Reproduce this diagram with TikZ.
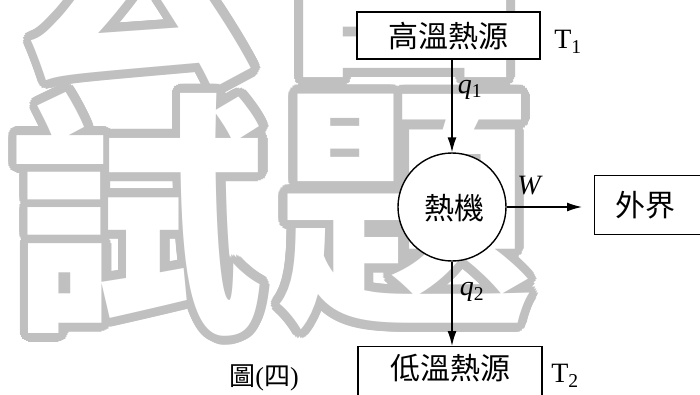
\documentclass[tikz,border=0pt]{standalone}
\usepackage{fontspec}
\setmainfont{Liberation Serif}
\newfontfamily\cjk{Noto Sans CJK TC}
\usetikzlibrary{arrows.meta,calc}
\definecolor{wmgray}{RGB}{192,192,192}
\tikzset{
  box/.style={draw, line width=1.4pt, fill=white, inner sep=0pt},
  arr/.style={-{Latex[length=15pt,width=9pt]}, line width=1.4pt},
  cjklab/.style={font=\cjk\fontsize{30}{30}\selectfont, inner sep=0pt},
  lab/.style={font=\fontsize{28}{28}\selectfont, inner sep=0pt},
  wm/.style={font=\cjk\bfseries\fontsize{256}{256}\selectfont, inner sep=0pt},
}
\newcommand\wmglyph[3]{%
  \foreach \a in {0,15,...,345}{%
    \node[wm, text=wmgray] at ([shift={(\a:9)}]#1,#2) {#3};
    \node[wm, text=wmgray] at ([shift={(\a:5)}]#1,#2) {#3};
  }%
  \node[wm, text=white] at (#1,#2) {#3};
}
\begin{document}
\begin{tikzpicture}[x=1pt,y=-1pt]
\useasboundingbox (0,0) rectangle (700,394);
\clip (0,0) rectangle (700,394);
\fill[white] (0,0) rectangle (700,394);
% watermark
\wmglyph{137}{-31}{公}
\wmglyph{404}{-40}{昌}
\wmglyph{137}{214}{試}
\wmglyph{405}{212}{題}
% diagram
\node[box, minimum width=183pt, minimum height=47pt] (hot) at (448.5,35.5) {};
\node[cjklab] (hottxt) at (448.5,36) {高溫熱源};
\node[lab] (t1) at (568,42) {T\textsubscript{1}};
\node[box, circle, minimum size=108pt] (eng) at (452,207) {};
\node[cjklab] (engtxt) at (454,208) {熱機};
\node[box, minimum width=184pt, minimum height=60pt, anchor=north] (cold) at (450,346) {};
\node[cjklab] (coldtxt) at (450,368) {低溫熱源};
\node[lab] (t2) at (565,376) {T\textsubscript{2}};
\node[box, minimum width=140pt, minimum height=59pt, anchor=north west] (out) at (594,175) {};
\node[cjklab] (outtxt) at (645,205) {外界};
\node[font=\fontsize{26}{26}\selectfont, inner sep=0pt] (fig) at (264,378) {{\cjk 圖}({\cjk 四})};
% connectors
\draw[arr] (eng.north |- hot.south) -- (eng.north);
\node[lab] (q1) at (470,90) {\textit{q}\textsubscript{1}};
\draw[arr] (eng.south) -- (eng.south |- cold.north);
\node[lab] (q2) at (472,292) {\textit{q}\textsubscript{2}};
\draw[arr, shorten >=12pt] (eng.east) -- (eng.east -| out.west);
\node[lab] (w) at (530,186) {\textit{W}};
\end{tikzpicture}
\end{document}
